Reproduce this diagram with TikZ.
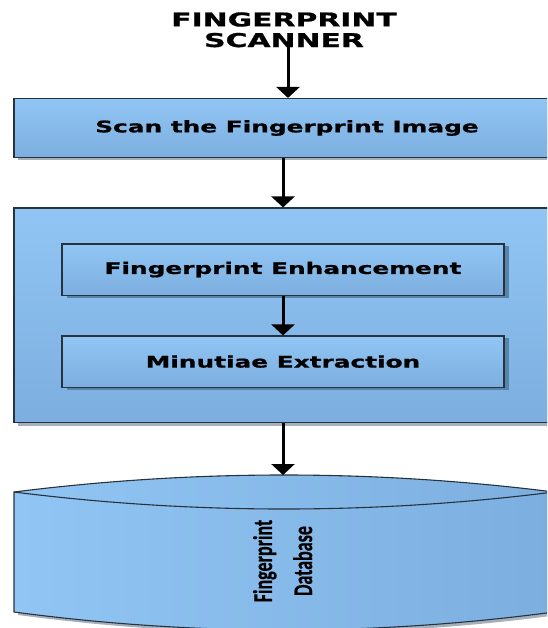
\documentclass[tikz,border=0pt]{standalone}
\usepackage{fontspec}
\setmainfont{DejaVu Sans}[BoldFeatures={FakeBold=0.8}]
\newfontfamily\dbfont{Carlito}[BoldFeatures={FakeBold=0.6}]
\usetikzlibrary{arrows.meta,shadows}
\definecolor{boxtop}{RGB}{145,197,244}
\definecolor{boxbot}{RGB}{124,175,223}
\definecolor{edgec}{RGB}{38,50,62}
\definecolor{shadowgray}{RGB}{165,176,186}
\definecolor{shadowblue}{RGB}{88,132,170}
\begin{document}
\begin{tikzpicture}[x=1pt,y=-1pt,
  panel/.style={draw=edgec, line width=1.1pt, top color=boxtop, bottom color=boxbot,
    inner sep=0pt, font=\bfseries\fontsize{16}{19}\selectfont},
  outershadow/.style={drop shadow={shadow xshift=4pt, shadow yshift=-3pt, fill=shadowgray, opacity=1}},
  innershadow/.style={drop shadow={shadow xshift=5pt, shadow yshift=-2.5pt, fill=shadowblue, opacity=1}},
  flow/.style={line width=3pt, -{Triangle[width=23pt,length=11pt]}}]
\useasboundingbox (0,0) rectangle (547,628);
\clip (0,0) rectangle (547,628);

% title
\node[inner sep=0pt, font=\bfseries\fontsize{19}{20.6}\selectfont] (title) at (284,32.6)
  {\scalebox{1.57}[1]{\begin{tabular}{@{}c@{}}FINGERPRINT\\SCANNER\end{tabular}}};

% scan box
\node[panel, outershadow, minimum width=546pt, minimum height=59pt] (scan) at (287,128)
  {\scalebox{1.55}[1]{Scan the Fingerprint Image}};

% processing block
\node[panel, outershadow, minimum width=546pt, minimum height=214.5pt] (proc) at (287,315.25) {};
\node[panel, innershadow, minimum width=442pt, minimum height=51.3pt] (enh) at (283,269.6)
  {\scalebox{1.55}[1]{Fingerprint Enhancement}};
\node[panel, innershadow, minimum width=442pt, minimum height=51.3pt] (minu) at (283,361.6)
  {\scalebox{1.55}[1]{Minutiae Extraction}};

% database
\path[outershadow, draw=edgec, line width=1.1pt, left color=boxtop, right color=boxbot]
  (14,492) .. controls (194,469.33) and (374,469.33) .. (554,492) -- (554,612)
  .. controls (374,636) and (194,636) .. (14,612) -- cycle;
\draw[edgec, line width=1.1pt] (14,492) .. controls (194,514.67) and (374,514.67) .. (554,492);
\coordinate (dbtop) at (283,475);
\node[rotate=90, inner sep=0pt, font=\dbfont\bfseries\fontsize{18}{26.7}\selectfont] (dbtext) at (284,561)
  {\scalebox{1}[1.5]{\begin{tabular}{@{}c@{}}Fingerprint\\Database\end{tabular}}};

% connectors
\coordinate (a1) at (288,41);
\draw[flow] (a1) -- (a1 |- scan.north);
\draw[flow] (scan.south -| enh) -- (proc.north -| enh);
\draw[flow] (enh) -- (minu);
\draw[flow] (proc.south -| enh) -- (dbtop);
\end{tikzpicture}
\end{document}
